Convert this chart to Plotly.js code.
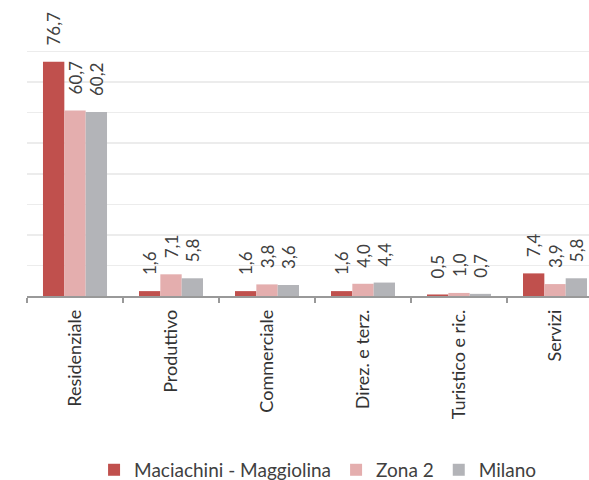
<!DOCTYPE html>
<html>
<head>
<meta charset="utf-8">
<script src="https://cdn.plot.ly/plotly-3.0.1.min.js"></script>
<style>html,body{margin:0;padding:0;overflow:hidden;background:#fff}</style>
</head>
<body>
<div id="chart" style="width:589px;height:480px"></div>
<script>
const categories = ["Residenziale", "Produttivo", "Commerciale", "Direz. e terz.", "Turistico e ric.", "Servizi"];
const seriesNames = ["Maciachini - Maggiolina", "Zona 2", "Milano"];
const maciachini = [76.7, 1.6, 1.6, 1.6, 0.5, 7.4];
const zona2 = [60.7, 7.1, 3.8, 4.0, 1.0, 3.9];
const milano = [60.2, 5.8, 3.6, 4.4, 0.7, 5.8];
const colors = ["#c0504d", "#e4aeae", "#b3b4b8"];

const FONT = "Lato, 'Open Sans', sans-serif";
const PAD = "\u00a0\u00a0\u00a0";

const traces = [maciachini, zona2, milano].map((vals, i) => ({
  type: "bar",
  name: seriesNames[i],
  x: categories,
  y: vals,
  marker: {color: colors[i]},
  text: vals.map(v => PAD + v.toFixed(1).replace(".", ",")),
  textposition: "outside",
  textangle: -90,
  constraintext: "none",
  cliponaxis: false,
  textfont: {family: FONT, size: 17, color: "#404040"},
  hoverinfo: "none"
}));

const layout = {
  width: 589,
  height: 480,
  margin: {l: 27, r: 0, t: 21, b: 184},
  paper_bgcolor: "#ffffff",
  plot_bgcolor: "#ffffff",
  barmode: "group",
  bargap: 0.333,
  bargroupgap: 0,
  font: {family: FONT, color: "#404040"},
  xaxis: {
    type: "category",
    range: [-0.5, 5.354],
    tickson: "boundaries",
    ticks: "outside",
    ticklen: 5,
    tickcolor: "#999999",
    tickwidth: 1.5,
    showline: true,
    linecolor: "#999999",
    linewidth: 1.5,
    showgrid: false,
    tickangle: -90,
    ticklabelstandoff: 5,
    tickfont: {family: FONT, size: 18, color: "#333333"}
  },
  yaxis: {
    range: [0, 90],
    dtick: 10,
    showticklabels: false,
    showgrid: true,
    gridcolor: "#ececec",
    gridwidth: 1.5,
    zeroline: false,
    showline: false,
    ticks: ""
  },
  showlegend: true,
  legend: {
    orientation: "h",
    xref: "container",
    yref: "container",
    x: 0.54,
    xanchor: "center",
    y: 0.021,
    yanchor: "middle",
    font: {family: FONT, size: 19, color: "#404040"},
    itemwidth: 30,
    traceorder: "normal"
  }
};

Plotly.newPlot("chart", traces, layout, {displayModeBar: false, staticPlot: true});
</script>
</body>
</html>
